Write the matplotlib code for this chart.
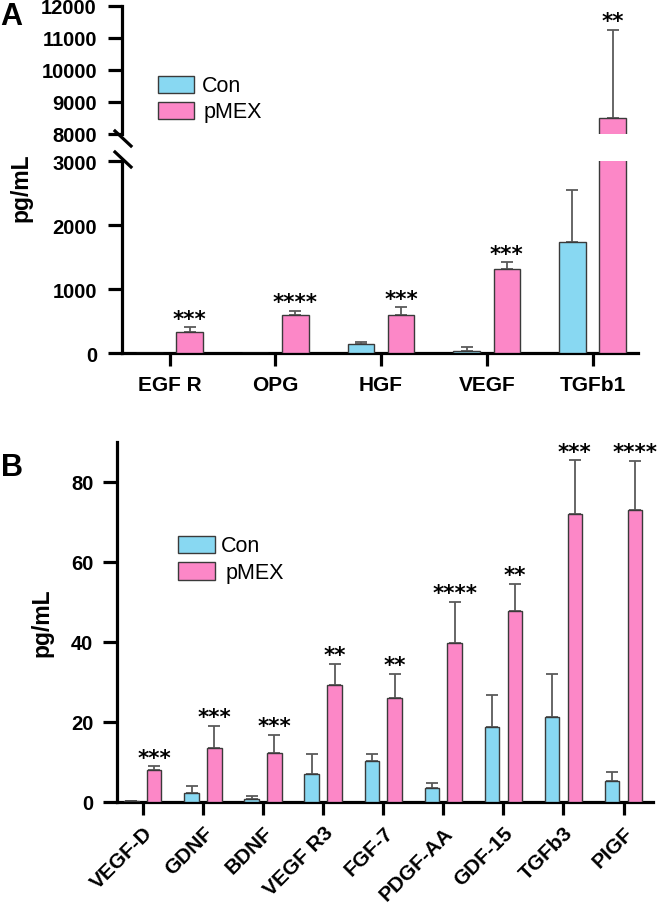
import matplotlib
matplotlib.use('Agg')
import matplotlib.pyplot as plt
from matplotlib.patches import Rectangle
from matplotlib.lines import Line2D
import numpy as np

plt.rcParams['font.family'] = ['Liberation Sans', 'DejaVu Sans']
plt.rcParams['font.weight'] = 'bold'

# ---------------- data ----------------
a_cats = ['EGF R', 'OPG', 'HGF', 'VEGF', 'TGFb1']
a_con = [0, 0, 140, 25, 1730]
a_con_err = [0, 0, 25, 65, 810]
a_pmex = [330, 600, 595, 1320, 8500]
a_pmex_err = [70, 60, 120, 100, 2750]
a_sig = ['***', '****', '***', '***', '**']

b_cats = ['VEGF-D', 'GDNF', 'BDNF', 'VEGF R3', 'FGF-7', 'PDGF-AA', 'GDF-15', 'TGFb3', 'PIGF']
b_con = [0.3, 2.35, 0.8, 6.9, 10.2, 3.4, 18.7, 21.2, 5.3]
b_con_err = [0, 1.6, 0.6, 5.2, 1.9, 1.4, 8.0, 10.9, 2.1]
b_pmex = [8.0, 13.5, 12.2, 29.2, 26.0, 39.8, 47.8, 72.0, 73.0]
b_pmex_err = [0.9, 5.6, 4.6, 5.4, 6.0, 10.3, 6.8, 13.4, 12.3]
b_sig = ['***', '***', '***', '**', '**', '****', '**', '***', '****']

series = ['Con', 'pMEX']
CON_C = '#88D8F2'
PMEX_C = '#FC87C7'
EDGE = '#3a3a3a'
ERR = '#5a5a5a'

W, H = 660, 904
fig = plt.figure(figsize=(W / 100, H / 100), dpi=100)


def fx(px):
    return px / W


def fy(py):
    return 1 - py / H


def style_axis(ax, fs=14.5, ypad=8, xpad=7):
    for s in ['top', 'right']:
        ax.spines[s].set_visible(False)
    for s in ['left', 'bottom']:
        ax.spines[s].set_linewidth(2.3)
    ax.tick_params(axis='y', length=10, width=2.3, labelsize=fs, pad=ypad)
    ax.tick_params(axis='x', length=9, width=2.3, labelsize=15, pad=xpad)
    for lab in ax.get_xticklabels() + ax.get_yticklabels():
        lab.set_fontweight('bold')


def draw_bars(ax, x, con, con_err, pm, pm_err, off, w):
    ax.bar(x - off, con, w, color=CON_C, edgecolor=EDGE, linewidth=1.0, zorder=3)
    ax.bar(x + off, pm, w, color=PMEX_C, edgecolor=EDGE, linewidth=1.0, zorder=3)
    z = np.zeros(len(x))
    ax.errorbar(x - off, con, yerr=[z, con_err], fmt='none', ecolor=ERR,
                elinewidth=1.3, capsize=4, capthick=1.3, zorder=2)
    ax.errorbar(x + off, pm, yerr=[z, pm_err], fmt='none', ecolor=ERR,
                elinewidth=1.3, capsize=4, capthick=1.3, zorder=2)


# ---------------- Panel A (broken axis) ----------------
xa = np.arange(len(a_cats))
offA, wA = 0.19, 0.25
axU = fig.add_axes([fx(122), fy(135), fx(638) - fx(122), fy(7) - fy(135)])
axL = fig.add_axes([fx(122), fy(354), fx(638) - fx(122), fy(162) - fy(354)])
for ax in (axU, axL):
    draw_bars(ax, xa, a_con, a_con_err, a_pmex, a_pmex_err, offA, wA)
    ax.set_xlim(-0.45, 4.43)
axU.set_ylim(8000, 12000)
axU.set_yticks([8000, 9000, 10000, 11000, 12000])
axL.set_ylim(0, 3000)
axL.set_yticks([0, 1000, 2000, 3000])
axL.set_xticks(xa)
axL.set_xticklabels(a_cats)
style_axis(axL)
style_axis(axU)
axU.spines['bottom'].set_visible(False)
axU.set_xticks([])

# significance stars for panel A
for i in range(len(a_cats)):
    top = a_pmex[i] + a_pmex_err[i]
    ax = axU if top > 3000 else axL
    ax.annotate(a_sig[i], (xa[i] + offA, top), xytext=(0, -1), textcoords='offset points',
                ha='center', va='bottom', fontsize=15.5, fontweight='bold',
                family='DejaVu Sans', annotation_clip=False)

# break marks
for (x0, y0, x1, y1) in [(115, 132, 131, 147), (115, 153, 131, 168)]:
    fig.add_artist(Line2D([fx(x0), fx(x1)], [fy(y0), fy(y1)], color='black', lw=2.3,
                          transform=fig.transFigure))

fig.text(fx(21), fy(188), 'pg/mL', rotation=90, ha='center', va='center',
         fontsize=16.5, fontweight='bold')
fig.text(fx(11), fy(17), 'A', ha='center', va='center', fontsize=22, fontweight='bold')

# legend A
for (py0, py1, col, lab, tx) in [(77, 94, CON_C, series[0], 202), (103, 120, PMEX_C, series[1], 204)]:
    fig.add_artist(Rectangle((fx(158), fy(py1)), fx(194) - fx(158), fy(py0) - fy(py1),
                             transform=fig.transFigure, facecolor=col, edgecolor=EDGE, lw=1.0))
    fig.text(fx(tx), fy((py0 + py1) / 2 + 1), lab, ha='left', va='center', fontsize=15.5,
             fontweight='normal')

# ---------------- Panel B ----------------
xb = np.arange(len(b_cats))
offB, wB = 0.19, 0.24
axB = fig.add_axes([fx(117), fy(803), fx(653) - fx(117), fy(443) - fy(803)])
draw_bars(axB, xb, b_con, b_con_err, b_pmex, b_pmex_err, offB, wB)
axB.set_xlim(-0.43, 8.49)
axB.set_ylim(0, 90)
axB.set_yticks([0, 20, 40, 60, 80])
axB.set_xticks(xb)
axB.set_xticklabels(b_cats, rotation=45, ha='right', rotation_mode='anchor')
style_axis(axB, ypad=7, xpad=6)

for i in range(len(b_cats)):
    top = b_pmex[i] + b_pmex_err[i]
    axB.annotate(b_sig[i], (xb[i] + offB, top), xytext=(0, -1), textcoords='offset points',
                 ha='center', va='bottom', fontsize=15.5, fontweight='bold',
                 family='DejaVu Sans', annotation_clip=False)

fig.text(fx(42), fy(623), 'pg/mL', rotation=90, ha='center', va='center',
         fontsize=16.5, fontweight='bold')
fig.text(fx(12), fy(468), 'B', ha='center', va='center', fontsize=22, fontweight='bold')

for (py0, py1, col, lab, tx) in [(537, 554, CON_C, series[0], 221), (563, 581, PMEX_C, series[1], 226)]:
    fig.add_artist(Rectangle((fx(178), fy(py1)), fx(215) - fx(178), fy(py0) - fy(py1),
                             transform=fig.transFigure, facecolor=col, edgecolor=EDGE, lw=1.0))
    fig.text(fx(tx), fy((py0 + py1) / 2 + 1), lab, ha='left', va='center', fontsize=15.5,
             fontweight='normal')

fig.savefig('out.png', dpi=100)
